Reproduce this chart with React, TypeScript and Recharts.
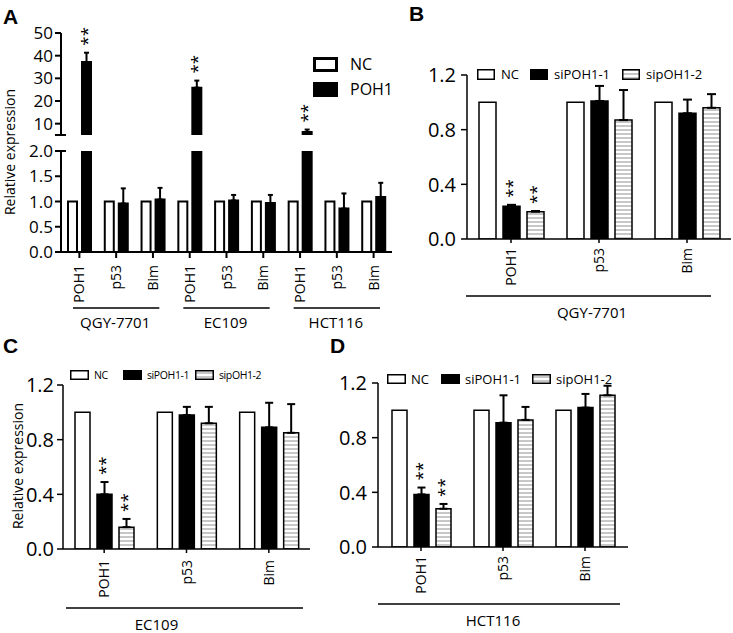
import { Bar, BarChart, ErrorBar, LabelList, Legend, XAxis, YAxis } from "recharts";

const FONT = "'Open Sans', sans-serif";
const INK = "#000";

// ---- panel A: POH1 overexpression, broken y axis ----
const catsA = ["POH1", "p53", "Bim", "POH1", "p53", "Bim", "POH1", "p53", "Bim"];
const groupsA = ["QGY-7701", "EC109", "HCT116"];
const ncA = [1, 1, 1, 1, 1, 1, 1, 1, 1];
const poh1A = [37.2, 0.96, 1.04, 25.9, 1.02, 0.97, 6.3, 0.86, 1.09];
const poh1ErrA = [4.1, 0.3, 0.23, 3.1, 0.11, 0.16, 1.1, 0.3, 0.28];
const sigA = ["**", "", "", "**", "", "", "**", "", ""];
const lowTicksA = [0, 0.5, 1, 1.5, 2];
const highTicksA = [5, 10, 20, 30, 40, 50];
const LOW_MAX_A = 2;
const HIGH_MIN_A = 5;
const HIGH_MAX_A = 50;

// ---- panels B-D: knockdown with two siRNAs ----
const catsKD = ["POH1", "p53", "Bim"];
const kdTicks = [0, 0.4, 0.8, 1.2];

const ncB = [1, 1, 1];
const si1B = [0.24, 1.01, 0.92];
const si1ErrB = [0.01, 0.11, 0.1];
const si2B = [0.2, 0.87, 0.96];
const si2ErrB = [0.005, 0.22, 0.1];
const sig1B = ["**", "", ""];
const sig2B = ["**", "", ""];

const ncC = [1, 1, 1];
const si1C = [0.4, 0.98, 0.89];
const si1ErrC = [0.09, 0.06, 0.18];
const si2C = [0.16, 0.92, 0.85];
const si2ErrC = [0.06, 0.12, 0.21];
const sig1C = ["**", "", ""];
const sig2C = ["**", "", ""];

const ncD = [1, 1, 1];
const si1D = [0.385, 0.91, 1.02];
const si1ErrD = [0.05, 0.2, 0.1];
const si2D = [0.28, 0.93, 1.11];
const si2ErrD = [0.035, 0.095, 0.07];
const sig1D = ["**", "", ""];
const sig2D = ["**", "", ""];

const rowsALow = catsA.map((cat, i) => ({
  cat,
  nc: ncA[i],
  poh1: poh1A[i],
  err: poh1A[i] <= LOW_MAX_A ? [0, poh1ErrA[i]] : null,
}));

const rowsAHigh = catsA.map((cat, i) => ({
  cat,
  nc: null,
  poh1: poh1A[i] > HIGH_MIN_A ? poh1A[i] : null,
  err: poh1A[i] > HIGH_MIN_A ? [0, poh1ErrA[i]] : null,
  sig: sigA[i],
}));

function kdRows(nc: number[], s1: number[], e1: number[], s2: number[], e2: number[], g1: string[], g2: string[]) {
  return catsKD.map((cat, i) => ({
    cat,
    nc: nc[i],
    si1: s1[i],
    err1: [0, e1[i]],
    sig1: g1[i],
    si2: s2[i],
    err2: [0, e2[i]],
    sig2: g2[i],
  }));
}

const rowsB = kdRows(ncB, si1B, si1ErrB, si2B, si2ErrB, sig1B, sig2B);
const rowsC = kdRows(ncC, si1C, si1ErrC, si2C, si2ErrC, sig1C, sig2C);
const rowsD = kdRows(ncD, si1D, si1ErrD, si2D, si2ErrD, sig1D, sig2D);

// label value for significance marks: "value|error" when marked, "" otherwise
function starKey(valueKey: string, errKey: string, sigKey: string) {
  return (r: any) => (r && r[sigKey] && r[valueKey] != null ? `${r[valueKey]}|${r[errKey] ? r[errKey][1] : 0}` : "");
}

function Hatch({ id }: { id: string }) {
  return (
    <pattern id={id} patternUnits="userSpaceOnUse" width={4} height={4}>
      <rect width={4} height={4} fill="#fff" />
      <line x1={0} x2={4} y1={2} y2={2} stroke="#8f8f8f" strokeWidth={1} />
    </pattern>
  );
}

type CatTickCfg = {
  fontSize: number;
  groups: string[];
  lineDy: number;
  labelDy: number;
  lineL: number;
  lineR: number;
  labelDx: number;
  half: number;
};

function makeCategoryTick(cfg: CatTickCfg) {
  return function CategoryTick(props: any) {
    const { x, y, payload } = props;
    const idx: number = payload?.index ?? 0;
    const half = typeof payload?.offset === "number" && payload.offset > 0 ? payload.offset : cfg.half;
    const showGroup = idx % 3 === 1;
    return (
      <g>
        <text
          x={x}
          y={y}
          dy="0.36em"
          transform={`rotate(-90 ${x} ${y})`}
          textAnchor="end"
          fontFamily={FONT}
          fontSize={cfg.fontSize}
          fill={INK}
        >
          {payload.value}
        </text>
        {showGroup && (
          <g>
            <line
              x1={x - 3 * half - cfg.lineL}
              x2={x + 3 * half + cfg.lineR}
              y1={y + cfg.lineDy}
              y2={y + cfg.lineDy}
              stroke={INK}
              strokeWidth={1.5}
            />
            <text x={x + cfg.labelDx} y={y + cfg.labelDy} textAnchor="middle" fontFamily={FONT} fontSize={15} fill={INK}>
              {cfg.groups[Math.floor(idx / 3)]}
            </text>
          </g>
        )}
      </g>
    );
  };
}

type ValueTickCfg = {
  fontSize: number;
  digits: number;
  tickSize: number;
  tickMargin: number;
  breakAt?: number;
  breakLabel?: boolean;
  strokeWidth: number;
};

function makeValueTick(cfg: ValueTickCfg) {
  return function ValueTick(props: any) {
    const { x, y, payload } = props;
    const v = Number(payload.value);
    const axisX = x + cfg.tickSize + cfg.tickMargin;
    const isBreak = cfg.breakAt !== undefined && Math.abs(v - cfg.breakAt) < 1e-9;
    return (
      <g>
        {isBreak && <line x1={axisX - 1} x2={axisX + 5} y1={y} y2={y} stroke={INK} strokeWidth={cfg.strokeWidth} />}
        {(!isBreak || cfg.breakLabel) && (
          <text x={x} y={y} dy="0.36em" textAnchor="end" fontFamily={FONT} fontSize={cfg.fontSize} fill={INK}>
            {v.toFixed(cfg.digits)}
          </text>
        )}
      </g>
    );
  };
}

function makeStars(base: number) {
  return function Stars(props: any) {
    if (!props.value) return null;
    const vb = props.viewBox ?? {};
    const x = props.x ?? vb.x;
    const y = props.y ?? vb.y;
    const width = props.width ?? vb.width;
    const height = props.height ?? vb.height;
    if (x === undefined || y === undefined) return null;
    const [v, e] = String(props.value).split("|").map(Number);
    const top = Math.min(y, y + height);
    const ppu = Math.abs(height) / (v - base);
    const errTop = top - (e || 0) * ppu;
    const cx = x + width / 2;
    const sy = errTop - 7;
    // "**" written upward so the two marks sit one above the other
    return (
      <text
        x={cx}
        y={sy}
        dy="0.36em"
        transform={`rotate(-90 ${cx} ${sy})`}
        textAnchor="start"
        fontFamily={FONT}
        fontSize={17}
        fill={INK}
      >
        **
      </text>
    );
  };
}

type LegendCfg = {
  spots: number[][];
  box: number[];
  sw: number;
  textGap: number;
  fontSize: number;
  letterSpacing?: number;
  hatchId: string;
  w: number;
  h: number;
};

function SwatchLegend({ payload, cfg }: { payload: any[]; cfg: LegendCfg }) {
  const [bw, bh] = cfg.box;
  return (
    <svg width={cfg.w} height={cfg.h} style={{ display: "block", overflow: "visible" }}>
      <defs>
        <Hatch id={cfg.hatchId} />
      </defs>
      {(payload ?? []).map((entry: any, i: number) => {
        const [bx, by] = cfg.spots[i] ?? [0, 0];
        const key = entry.dataKey;
        const fill = key === "si2" ? `url(#${cfg.hatchId})` : key === "nc" ? "#fff" : INK;
        return (
          <g key={String(key)}>
            <rect
              x={bx + cfg.sw / 2}
              y={by + cfg.sw / 2}
              width={bw - cfg.sw}
              height={bh - cfg.sw}
              fill={fill}
              stroke={INK}
              strokeWidth={cfg.sw}
            />
            <text
              x={bx + bw + cfg.textGap}
              y={by + bh / 2}
              dy="0.36em"
              fontFamily={FONT}
              fontSize={cfg.fontSize}
              letterSpacing={cfg.letterSpacing ?? 0}
              fill={INK}
            >
              {entry.value}
            </text>
          </g>
        );
      })}
    </svg>
  );
}

// ---- Panel A ----
const tickALow = makeValueTick({ fontSize: 17, digits: 1, tickSize: 6, tickMargin: 2, breakAt: LOW_MAX_A, breakLabel: true, strokeWidth: 2 });
const tickAHigh = makeValueTick({ fontSize: 17, digits: 0, tickSize: 6, tickMargin: 2, breakAt: HIGH_MIN_A, breakLabel: false, strokeWidth: 2 });
const catTickA = makeCategoryTick({
  fontSize: 14,
  groups: groupsA,
  lineDy: 43,
  labelDy: 63,
  lineL: -12,
  lineR: -12,
  labelDx: -1,
  half: 18.4,
});
const starsHigh = makeStars(HIGH_MIN_A);
const starsZero = makeStars(0);

function PanelA() {
  const axisLine = { stroke: INK, strokeWidth: 2 };
  return (
    <>
      <div style={{ position: "absolute", left: 0, top: 15 }}>
        <BarChart width={400} height={125} data={rowsAHigh} margin={{ top: 18, right: 8, bottom: 5, left: 0 }} barSize={9} barGap={5}>
          <XAxis dataKey="cat" hide />
          <YAxis
            type="number"
            domain={[HIGH_MIN_A, HIGH_MAX_A]}
            ticks={highTicksA}
            allowDataOverflow
            interval={0}
            width={61}
            tickSize={6}
            tickMargin={2}
            axisLine={axisLine}
            tickLine={axisLine}
            tick={tickAHigh}
          />
          <Legend
            layout="vertical"
            align="center"
            verticalAlign="middle"
            wrapperStyle={{ left: 0, top: 0, width: 400, height: 125, pointerEvents: "none" }}
            content={(p: any) => (
              <SwatchLegend
                payload={p.payload}
                cfg={{ spots: [[313, 42], [313, 67]], box: [25, 15], sw: 3, textGap: 12, fontSize: 16, hatchId: "hatchLegA", w: 400, h: 125 }}
              />
            )}
          />
          <Bar dataKey="nc" name="NC" fill="#fff" stroke={INK} strokeWidth={2} isAnimationActive={false} />
          <Bar dataKey="poh1" name="POH1" fill={INK} stroke={INK} strokeWidth={2} isAnimationActive={false}>
            <ErrorBar dataKey="err" width={2.5} strokeWidth={2} stroke={INK} direction="y" isAnimationActive={false} />
            <LabelList dataKey={starKey("poh1", "err", "sig")} content={starsHigh} />
          </Bar>
        </BarChart>
      </div>
      <div style={{ position: "absolute", left: 0, top: 140 }}>
        <BarChart width={400} height={193} data={rowsALow} margin={{ top: 11, right: 8, bottom: 0, left: 0 }} barSize={9} barGap={5}>
          <XAxis
            dataKey="cat"
            interval={0}
            height={81}
            tickSize={6}
            tickMargin={7}
            axisLine={axisLine}
            tickLine={axisLine}
            tick={catTickA}
          />
          <YAxis
            type="number"
            domain={[0, LOW_MAX_A]}
            ticks={lowTicksA}
            allowDataOverflow
            interval={0}
            width={61}
            tickSize={6}
            tickMargin={2}
            axisLine={axisLine}
            tickLine={axisLine}
            tick={tickALow}
          />
          <Bar dataKey="nc" name="NC" fill="#fff" stroke={INK} strokeWidth={2} isAnimationActive={false} />
          <Bar dataKey="poh1" name="POH1" fill={INK} stroke={INK} strokeWidth={2} isAnimationActive={false}>
            <ErrorBar dataKey="err" width={2.5} strokeWidth={2} stroke={INK} direction="y" isAnimationActive={false} />
          </Bar>
        </BarChart>
      </div>
    </>
  );
}

// ---- Panels B-D ----
type KdCfg = {
  rows: any[];
  left: number;
  top: number;
  width: number;
  height: number;
  margin: { top: number; right: number; bottom: number; left: number };
  yWidth: number;
  yTickMargin: number;
  padding: { left: number; right: number };
  barSize: number;
  barGap: number;
  errWidth: number;
  tickMargin: number;
  group: string;
  lineL: number;
  lineR: number;
  labelDx: number;
  half: number;
  id: string;
  legend: Omit<LegendCfg, "hatchId" | "w" | "h">;
};

function KnockdownPanel({ cfg }: { cfg: KdCfg }) {
  const axisLine = { stroke: INK, strokeWidth: 1.5 };
  const hatchId = `hatch${cfg.id}`;
  const yTick = makeValueTick({ fontSize: 20, digits: 1, tickSize: 6, tickMargin: cfg.yTickMargin, strokeWidth: 1.5 });
  const xTick = makeCategoryTick({
    fontSize: 14,
    groups: [cfg.group],
    lineDy: 48,
    labelDy: 70,
    lineL: cfg.lineL,
    lineR: cfg.lineR,
    labelDx: cfg.labelDx,
    half: cfg.half,
  });
  return (
    <div style={{ position: "absolute", left: cfg.left, top: cfg.top }}>
      <BarChart width={cfg.width} height={cfg.height} data={cfg.rows} margin={cfg.margin} barSize={cfg.barSize} barGap={cfg.barGap}>
        <defs>
          <Hatch id={hatchId} />
        </defs>
        <XAxis
          dataKey="cat"
          interval={0}
          height={cfg.height - cfg.margin.top - cfg.margin.bottom - 164}
          padding={cfg.padding}
          tickSize={4}
          tickMargin={cfg.tickMargin}
          axisLine={axisLine}
          tickLine={axisLine}
          tick={xTick}
        />
        <YAxis
          type="number"
          domain={[0, 1.2]}
          ticks={kdTicks}
          interval={0}
          allowDataOverflow
          width={cfg.yWidth}
          tickSize={6}
          tickMargin={cfg.yTickMargin}
          axisLine={axisLine}
          tickLine={axisLine}
          tick={yTick}
        />
        <Legend
          layout="vertical"
          align="center"
          verticalAlign="middle"
          wrapperStyle={{ left: 0, top: 0, width: cfg.width, height: cfg.height, pointerEvents: "none" }}
          content={(p: any) => (
            <SwatchLegend payload={p.payload} cfg={{ ...cfg.legend, hatchId: `${hatchId}Leg`, w: cfg.width, h: cfg.height }} />
          )}
        />
        <Bar dataKey="nc" name="NC" fill="#fff" stroke={INK} strokeWidth={1.5} isAnimationActive={false} />
        <Bar dataKey="si1" name="siPOH1-1" fill={INK} stroke={INK} strokeWidth={1.5} isAnimationActive={false}>
          <ErrorBar dataKey="err1" width={cfg.errWidth} strokeWidth={2} stroke={INK} direction="y" isAnimationActive={false} />
          <LabelList dataKey={starKey("si1", "err1", "sig1")} content={starsZero} />
        </Bar>
        <Bar dataKey="si2" name="sipOH1-2" fill={`url(#${hatchId})`} stroke={INK} strokeWidth={1.5} isAnimationActive={false}>
          <ErrorBar dataKey="err2" width={cfg.errWidth} strokeWidth={2} stroke={INK} direction="y" isAnimationActive={false} />
          <LabelList dataKey={starKey("si2", "err2", "sig2")} content={starsZero} />
        </Bar>
      </BarChart>
    </div>
  );
}

const cfgB: KdCfg = {
  rows: rowsB,
  left: 380,
  top: 60,
  width: 353,
  height: 280,
  margin: { top: 15, right: 2, bottom: 0, left: 0 },
  yWidth: 87,
  yTickMargin: 5,
  padding: { left: 0, right: 0 },
  barSize: 17,
  barGap: 7,
  errWidth: 4.5,
  tickMargin: 5,
  group: "QGY-7701",
  lineL: 1,
  lineR: -20,
  labelDx: -7,
  half: 44,
  id: "B",
  legend: { spots: [[97, 9], [150, 9], [242, 9]], box: [18, 11], sw: 1.5, textGap: 6, fontSize: 13 },
};

const cfgC: KdCfg = {
  rows: rowsC,
  left: 0,
  top: 335,
  width: 320,
  height: 298,
  margin: { top: 50, right: 10, bottom: 0, left: 0 },
  yWidth: 63,
  yTickMargin: 3,
  padding: { left: 0, right: 0 },
  barSize: 15,
  barGap: 7,
  errWidth: 4,
  tickMargin: 7,
  group: "EC109",
  lineL: -3,
  lineR: -7,
  labelDx: -30,
  half: 41,
  id: "C",
  legend: { spots: [[70, 35], [123, 35], [195, 35]], box: [19, 10], sw: 1.5, textGap: 5, fontSize: 10.5, letterSpacing: -0.4 },
};

const cfgD: KdCfg = {
  rows: rowsD,
  left: 320,
  top: 335,
  width: 330,
  height: 298,
  margin: { top: 48, right: 22, bottom: 0, left: 0 },
  yWidth: 58,
  yTickMargin: 5,
  padding: { left: 2, right: 2 },
  barSize: 15,
  barGap: 7,
  errWidth: 4,
  tickMargin: 5,
  group: "HCT116",
  lineL: 2,
  lineR: -6,
  labelDx: -10,
  half: 41,
  id: "D",
  legend: { spots: [[67, 39], [121, 39], [212, 39]], box: [19, 10], sw: 1.5, textGap: 5, fontSize: 13 },
};

export default function App() {
  return (
    <div style={{ position: "absolute", left: 0, top: 0, width: 733, height: 633, background: "#fff", overflow: "hidden" }}>
      <PanelA />
      <KnockdownPanel cfg={cfgB} />
      <KnockdownPanel cfg={cfgC} />
      <KnockdownPanel cfg={cfgD} />
      <svg width={733} height={633} style={{ position: "absolute", left: 0, top: 0, pointerEvents: "none" }}>
        <g fontFamily="'Liberation Sans', Arial, sans-serif" fontWeight="bold" fontSize={21} fill={INK}>
          <text x={3} y={24}>A</text>
          <text x={409} y={21}>B</text>
          <text x={3} y={353}>C</text>
          <text x={330} y={353}>D</text>
        </g>
        <g fontFamily={FONT} fontSize={14} fill={INK}>
          <text x={15} y={152} textAnchor="middle" transform="rotate(-90 15 152)">Relative expression</text>
          <text x={23} y={466} textAnchor="middle" transform="rotate(-90 23 466)">Relative expression</text>
        </g>
      </svg>
    </div>
  );
}
